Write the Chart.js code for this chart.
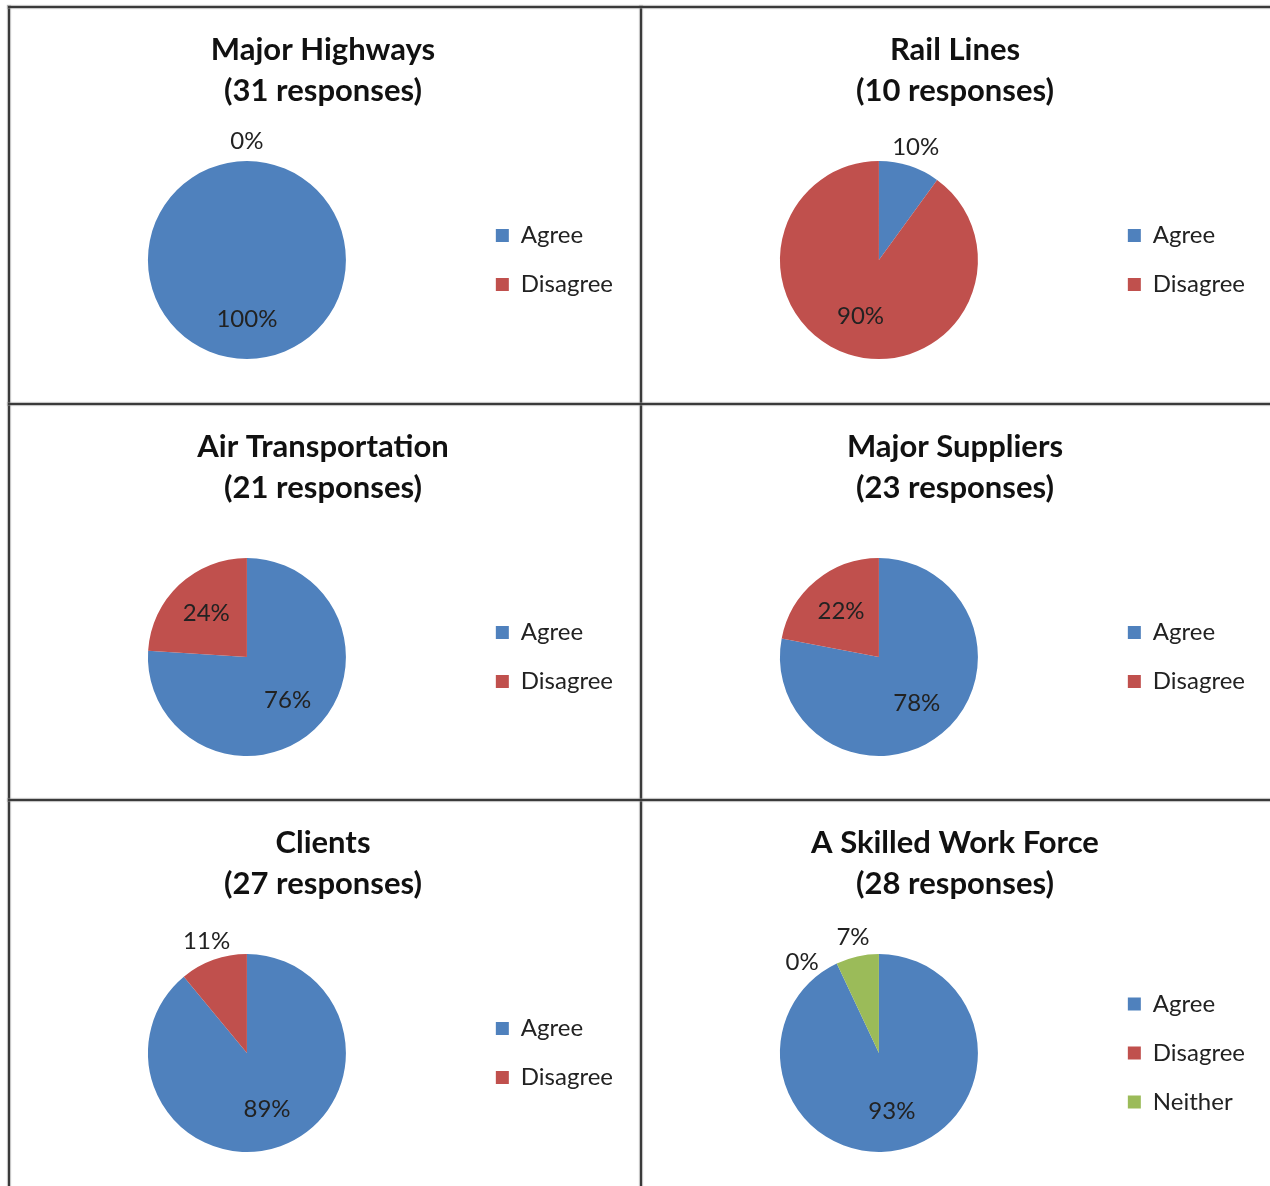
<!DOCTYPE html>
<html>
<head>
<meta charset="utf-8">
<title>Survey responses</title>
<script src="https://cdn.jsdelivr.net/npm/chart.js@4.4.1/dist/chart.umd.min.js"></script>
<style>
  body { margin: 0; background: #fff; width: 1270px; height: 1186px; overflow: hidden; position: relative; }
  canvas { position: absolute; }
  .line { position: absolute; background: #3a3a3a; box-shadow: 0 0 1px 1px rgba(140, 140, 140, 0.55); }
</style>
</head>
<body>
<!-- table rules around the six charts -->
<div class="line" style="left:8px; top:6px; width:2px; height:1200px"></div>
<div class="line" style="left:640px; top:6px; width:2px; height:1200px"></div>
<div class="line" style="left:1272px; top:6px; width:2px; height:1200px"></div>
<div class="line" style="left:8px; top:6px; width:1266px; height:2px"></div>
<div class="line" style="left:8px; top:403px; width:1266px; height:2px"></div>
<div class="line" style="left:8px; top:799px; width:1266px; height:2px"></div>

<script>
// Survey answers per topic, in percent of responses
const categories = ['Agree', 'Disagree', 'Neither'];
const titles = ['Major Highways', 'Rail Lines', 'Air Transportation', 'Major Suppliers', 'Clients', 'A Skilled Work Force'];
const responses = [31, 10, 21, 23, 27, 28];
const agree = [100, 10, 76, 78, 89, 93];
const disagree = [0, 90, 24, 22, 11, 0];
const neither = [null, null, null, null, null, 7];

const colors = ['#4f81bd', '#c0504d', '#9bbb59'];
const cellLeft = [10, 642];
const cellTop = [8, 405, 801];

// Percent labels: big slices get them inside, small ones just outside the rim
const sliceLabels = {
    id: 'sliceLabels',
    afterDatasetsDraw(chart) {
        const ctx = chart.ctx;
        const meta = chart.getDatasetMeta(0);
        const values = chart.data.datasets[0].data;
        const order = values.map((v, i) => i).sort((a, b) => values[b] - values[a]);
        const placed = [];
        ctx.save();
        ctx.font = '24px Lato';
        ctx.fillStyle = '#222';
        ctx.textAlign = 'center';
        ctx.textBaseline = 'middle';
        order.forEach(i => {
            const arc = meta.data[i];
            const p = arc.getProps(['x', 'y', 'startAngle', 'endAngle', 'outerRadius'], true);
            const text = values[i] + '%';
            const w = ctx.measureText(text).width;
            const inside = values[i] >= 15;
            const dist = inside ? p.outerRadius * 0.6 : p.outerRadius + 20;
            let angle = (p.startAngle + p.endAngle) / 2;
            let lx, ly;
            // step small labels backwards round the rim until they stop overlapping
            for (let k = 0; k < 12; k++) {
                lx = p.x + Math.cos(angle) * dist;
                ly = p.y + Math.sin(angle) * dist;
                const hit = placed.some(b => Math.abs(b.x - lx) < (b.w + w) / 2 + 14 && Math.abs(b.y - ly) < 24);
                if (!hit) break;
                angle -= Math.PI / 36;
            }
            placed.push({ x: lx, y: ly, w: w });
            ctx.fillText(text, lx, ly);
        });
        ctx.restore();
    }
};

function drawPie(i) {
    const canvas = document.createElement('canvas');
    canvas.width = 630;
    canvas.height = 395;
    canvas.style.left = cellLeft[i % 2] + 'px';
    canvas.style.top = cellTop[Math.floor(i / 2)] + 'px';
    document.body.appendChild(canvas);

    const labels = neither[i] === null ? categories.slice(0, 2) : categories;
    const values = neither[i] === null ? [agree[i], disagree[i]] : [agree[i], disagree[i], neither[i]];

    return new Chart(canvas, {
        type: 'pie',
        data: {
            labels: labels,
            datasets: [{
                data: values,
                backgroundColor: colors,
                borderWidth: 0,
                hoverOffset: 0
            }]
        },
        options: {
            responsive: false,
            animation: false,
            events: [],
            layout: { padding: { left: 13, right: 17, top: 0, bottom: 44 } },
            plugins: {
                title: {
                    display: true,
                    text: [titles[i], '(' + responses[i] + ' responses)'],
                    color: '#111',
                    font: { family: 'Lato', size: 31, weight: 'bold', lineHeight: '41px' },
                    padding: { top: 21, bottom: 50 }
                },
                legend: {
                    position: 'right',
                    fullSize: false,
                    labels: {
                        color: '#222',
                        font: { family: 'Lato', size: 24 },
                        boxWidth: 13,
                        boxHeight: 13,
                        padding: 25
                    }
                },
                tooltip: { enabled: false }
            }
        },
        plugins: [sliceLabels]
    });
}

const charts = titles.map((t, i) => drawPie(i));
</script>
</body>
</html>
